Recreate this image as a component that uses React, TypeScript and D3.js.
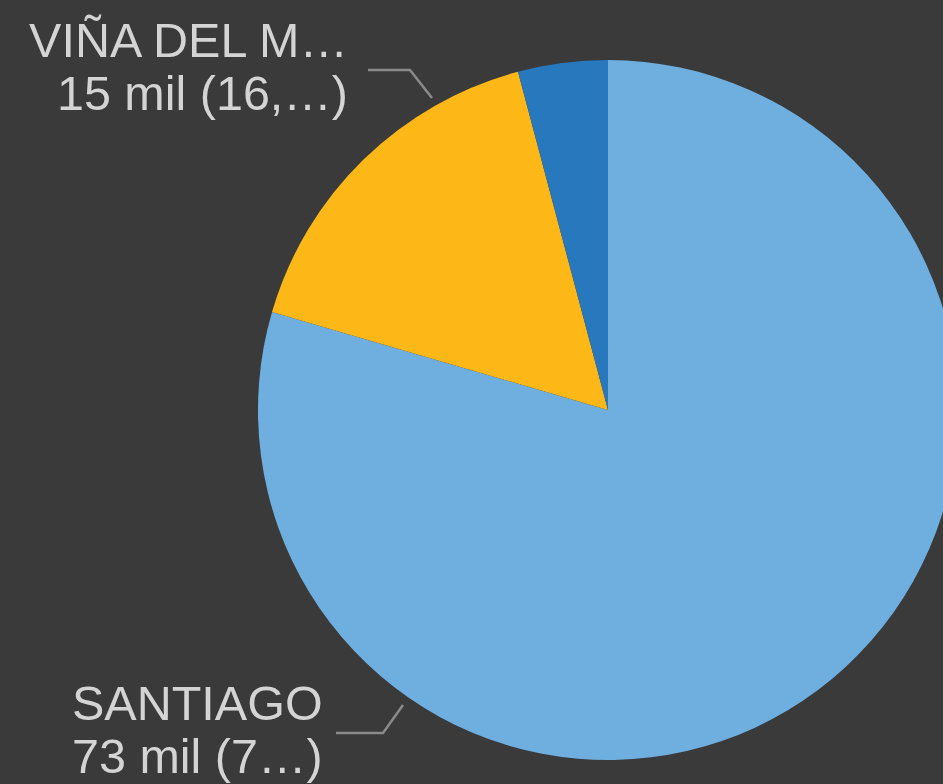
import React from "react";
import * as d3 from "d3";

const categories = ["SANTIAGO", "VIÑA DEL MAR", "OTRO"];
const values = [73, 15, 3.8];
const valueLabels = ["73 mil (7…)", "15 mil (16,…)", ""];
const nameLabels = ["SANTIAGO", "VIÑA DEL M…", ""];
const colors = ["#6fafe0", "#fdb817", "#2878be"];

const W = 943;
const H = 784;

export default function App() {
  const cx = 608, cy = 410, r = 350;
  const pie = d3.pie<number>().sort(null).value((d) => d);
  const arcs = pie(values);
  const arc = d3.arc<d3.PieArcDatum<number>>().innerRadius(0).outerRadius(r);
  const fontSize = 48.5;
  const textColor = "#d4d4d4";
  const lineColor = "#8a8a8a";
  return (
    <svg width={W} height={H} style={{ position: "fixed", left: 0, top: 0, background: "#3a3a3a" }}
      fontFamily="'Liberation Sans', Arial, sans-serif">
      <rect x={0} y={0} width={W} height={H} fill="#3a3a3a" />
      <g transform={`translate(${cx},${cy})`}>
        {arcs.map((a, i) => (
          <path key={categories[i]} d={arc(a) || ""} fill={colors[i]} />
        ))}
      </g>
      {/* Viña del Mar label */}
      <polyline points="368,70 410,70 432,98" fill="none" stroke={lineColor} strokeWidth={2.5} />
      <text x={348} y={57} textAnchor="end" fontSize={fontSize} fill={textColor}>{nameLabels[1]}</text>
      <text x={348} y={110} textAnchor="end" fontSize={fontSize} fill={textColor}>{valueLabels[1]}</text>
      {/* Santiago label */}
      <polyline points="336,733 383,733 403,705" fill="none" stroke={lineColor} strokeWidth={2.5} />
      <text x={72} y={720} textAnchor="start" fontSize={fontSize} fill={textColor}>{nameLabels[0]}</text>
      <text x={72} y={773} textAnchor="start" fontSize={fontSize} fill={textColor}>{valueLabels[0]}</text>
    </svg>
  );
}
